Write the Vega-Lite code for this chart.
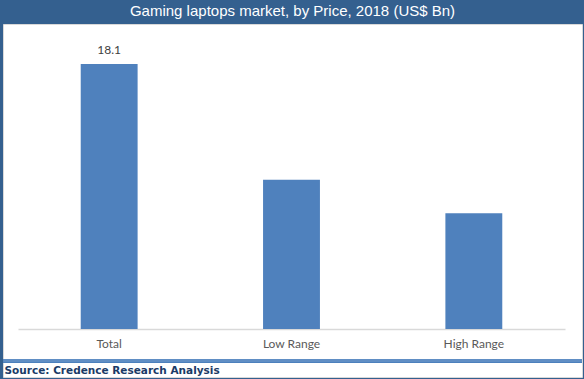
{
  "$schema": "https://vega.github.io/schema/vega-lite/v6.json",
  "width": 579,
  "height": 353,
  "autosize": {"type": "none"},
  "padding": {"left": 3, "top": 24, "right": 2, "bottom": 2},
  "background": "#34608f",
  "title": {
    "text": "Gaming laptops market, by Price, 2018 (US$ Bn)",
    "color": "#ffffff",
    "font": "Liberation Sans",
    "fontSize": 15,
    "fontWeight": "normal",
    "anchor": "middle",
    "frame": "group",
    "baseline": "middle",
    "offset": -2
  },
  "config": {
    "view": {"fill": "#ffffff", "stroke": "#d9d9d9", "strokeWidth": 1}
  },
  "data": {
    "values": [
      {"category": "Total", "value": 18.1, "label": "18.1"},
      {"category": "Low Range", "value": 10.2, "label": ""},
      {"category": "High Range", "value": 7.9, "label": ""}
    ]
  },
  "layer": [
    {
      "mark": {"type": "bar", "color": "#4f81bd"},
      "encoding": {
        "x": {
          "field": "category",
          "type": "nominal",
          "sort": null,
          "scale": {"range": [15, 562], "paddingInner": 0.688, "paddingOuter": 0.344},
          "axis": {
            "title": "Source: Credence Research Analysis",
            "titleFont": "DejaVu Sans",
            "titleFontWeight": "bold",
            "titleFontSize": 10.5,
            "titleColor": "#1a3a66",
            "titleAnchor": null,
            "titleAlign": "left",
            "titleBaseline": "middle",
            "titleX": 1,
            "titleY": 41,
            "offset": -48,
            "labelAngle": 0,
            "labelFont": "Lato",
            "labelFontSize": 12,
            "labelColor": "#595959",
            "labelPadding": 9,
            "ticks": false,
            "domainColor": "#d9d9d9",
            "domainWidth": 1.5,
            "grid": false
          }
        },
        "y": {
          "field": "value",
          "type": "quantitative",
          "scale": {"domain": [-3.28, 20.83], "nice": false, "zero": false},
          "axis": null
        }
      }
    },
    {
      "mark": {"type": "text", "font": "Lato", "fontSize": 12, "color": "#404040", "dy": -14, "baseline": "middle"},
      "encoding": {
        "x": {"field": "category", "type": "nominal", "sort": null},
        "y": {"field": "value", "type": "quantitative"},
        "text": {"field": "label"}
      }
    },
    {
      "mark": {"type": "rule", "color": "#4a7ebb", "strokeWidth": 1.2},
      "encoding": {"y": {"datum": -2.12}}
    },
    {
      "mark": {"type": "rule", "color": "#4a7ebb", "strokeWidth": 1.2},
      "encoding": {"y": {"datum": -2.26}}
    }
  ]
}
